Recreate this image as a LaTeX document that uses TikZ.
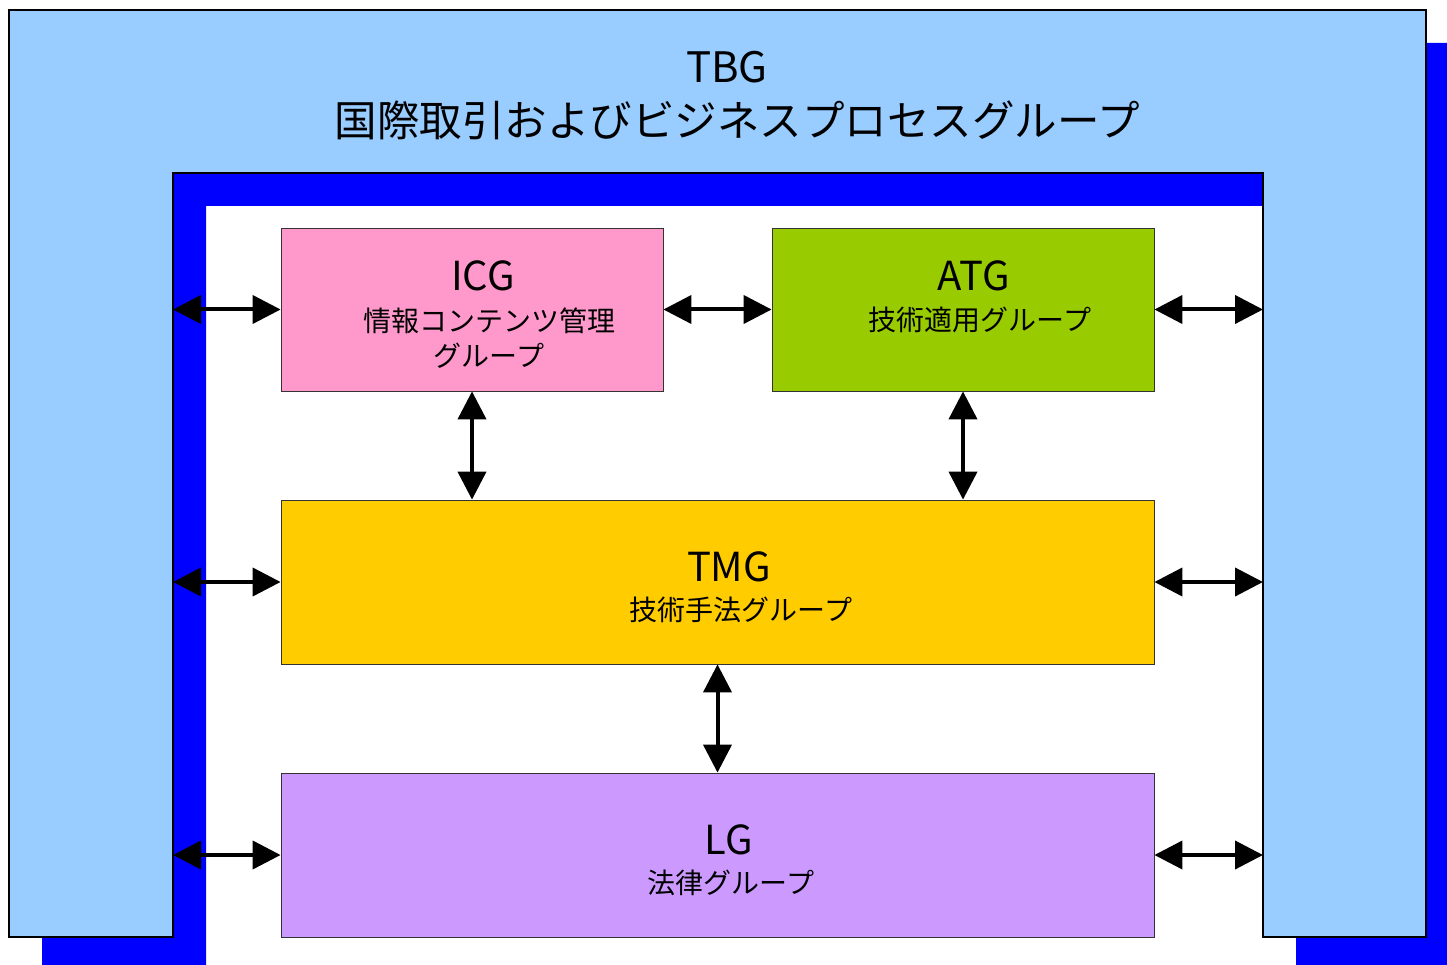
\documentclass[tikz,border=0pt]{standalone}
\usepackage{fontspec}
\setmainfont{Noto Sans CJK JP}
\usetikzlibrary{arrows.meta}
\definecolor{lightblue}{HTML}{99CCFF}
\definecolor{shadowblue}{HTML}{0000FF}
\definecolor{icgpink}{HTML}{FF99CC}
\definecolor{atggreen}{HTML}{99CC00}
\definecolor{tmggold}{HTML}{FFCC00}
\definecolor{lglav}{HTML}{CC99FF}
\tikzset{
  groupbox/.style={draw=black!80, line width=0.8pt, rectangle, inner sep=0pt},
  dblarrow/.style={line width=4pt, {Triangle[length=28pt,width=28pt]}-{Triangle[length=28pt,width=28pt]}, shorten <=0pt, shorten >=0pt},
  titletext/.style={font=\fontsize{40}{42}\selectfont, inner sep=0pt},
  subtext/.style={font=\fontsize{28}{35}\selectfont, inner sep=0pt, align=center}
}
\begin{document}
\begin{tikzpicture}[x=1pt,y=-1pt]
\useasboundingbox (0,0) rectangle (1447,965);
% shadow
\begin{scope}
  \clip (0,0) rectangle (1447,965);
  \fill[shadowblue, shift={(33,33)}] (9,10) -- (1426,10) -- (1426,937) -- (1263,937) -- (1263,173) -- (173,173) -- (173,937) -- (9,937) -- cycle;
\end{scope}
% outer U shape
\draw[fill=lightblue, line width=2pt] (9,10) -- (1426,10) -- (1426,937) -- (1263,937) -- (1263,173) -- (173,173) -- (173,937) -- (9,937) -- cycle;
\node[font=\fontsize{42}{44}\selectfont, inner sep=0pt] (tbg) at (727,67) {TBG};
\node[font=\fontsize{42.5}{44}\selectfont, inner sep=0pt] (tbgjp) at (737,120) {国際取引およびビジネスプロセスグループ};
% boxes
\node[groupbox, fill=icgpink, minimum width=382pt, minimum height=163pt] (icg) at (472,309.5) {};
\node[groupbox, fill=atggreen, minimum width=382pt, minimum height=163pt] (atg) at (963,309.5) {};
\node[groupbox, fill=tmggold, minimum width=873pt, minimum height=164pt] (tmg) at (717.5,582) {};
\node[groupbox, fill=lglav, minimum width=873pt, minimum height=164pt] (lg) at (717.5,855) {};
% texts
\node[titletext] (icgt) at (483,276) {ICG};
\node[subtext] (icgs) at (489,338) {情報コンテンツ管理\\グループ};
\node[titletext] (atgt) at (974,276) {ATG};
\node[subtext] (atgs) at (980,320) {技術適用グループ};
\node[titletext] (tmgt) at (729,567) {TMG};
\node[subtext] (tmgs) at (741,610) {技術手法グループ};
\node[titletext] (lgt) at (729,840) {LG};
\node[subtext] (lgs) at (731,883) {法律グループ};
% edge coordinates
\coordinate (l1) at (173,309.5);
\coordinate (l2) at (173,582);
\coordinate (l3) at (173,855);
\coordinate (r1) at (1263,309.5);
\coordinate (r2) at (1263,582);
\coordinate (r3) at (1263,855);
% arrows
\draw[dblarrow] (l1) -- (icg.west);
\draw[dblarrow] (l2) -- (tmg.west);
\draw[dblarrow] (l3) -- (lg.west);
\draw[dblarrow] (atg.east) -- (r1);
\draw[dblarrow] (tmg.east) -- (r2);
\draw[dblarrow] (lg.east) -- (r3);
\draw[dblarrow] (icg.east) -- (atg.west);
\draw[dblarrow] (icg.south) -- (icg.south |- tmg.north);
\draw[dblarrow] (atg.south) -- (atg.south |- tmg.north);
\draw[dblarrow] (tmg.south) -- (lg.north);
\end{tikzpicture}
\end{document}
